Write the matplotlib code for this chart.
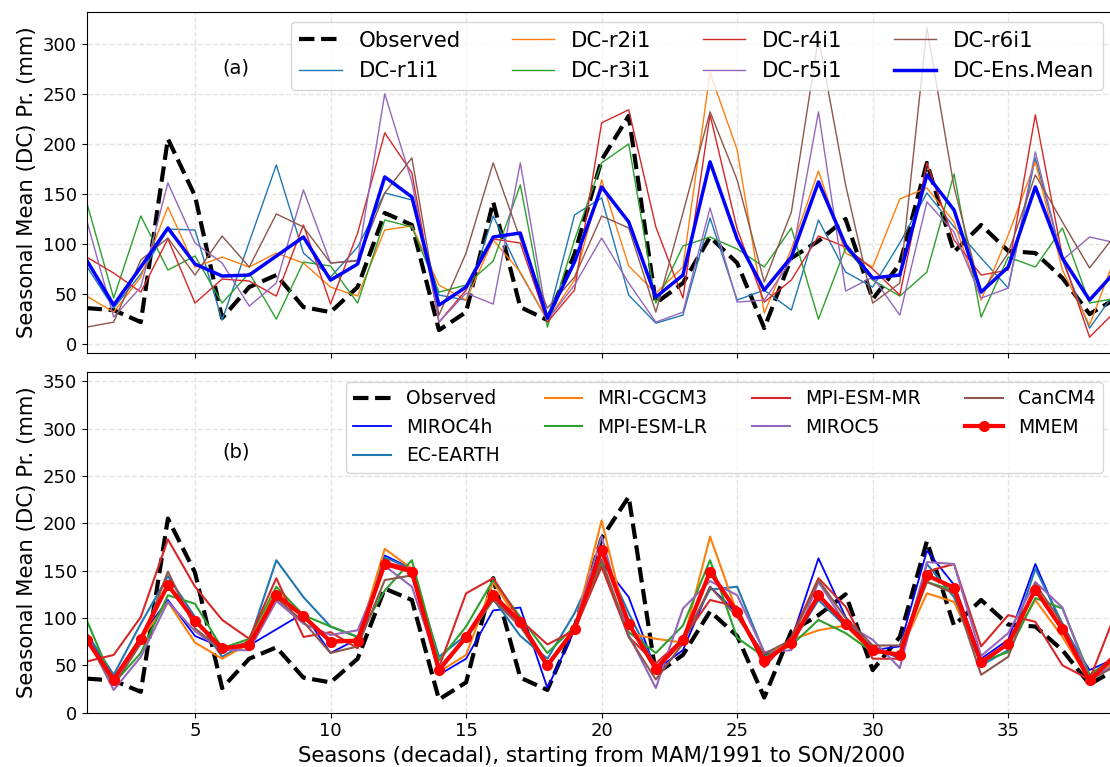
import numpy as np
import matplotlib
matplotlib.use("Agg")
import matplotlib.pyplot as plt

# seasonal index, MAM/1991 onwards
seasons = np.arange(1, 40)

observed = [36, 34, 22, 205, 148, 26, 57, 69, 37, 32, 57, 131, 119, 14, 32, 142, 37, 24, 90, 184,
            228, 41, 61, 107, 81, 16, 86, 103, 125, 45, 80, 181, 92, 119, 93, 91, 66, 30, 46]

# panel (a): decadal ensemble members
dc_r1i1 = [78, 36, 70, 115, 114, 24, 102, 179, 91, 67, 97, 151, 144, 49, 44, 128, 71, 24, 129, 146,
           49, 21, 29, 126, 44, 54, 34, 124, 72, 57, 101, 151, 117, 86, 56, 186, 84, 16, 54]
dc_r2i1 = [48, 32, 67, 137, 77, 87, 77, 91, 81, 57, 48, 114, 118, 59, 44, 104, 72, 24, 64, 164,
           78, 51, 77, 271, 194, 31, 95, 173, 91, 77, 145, 156, 122, 44, 109, 182, 74, 19, 91]
dc_r3i1 = [142, 46, 128, 74, 88, 41, 71, 25, 82, 78, 41, 124, 117, 52, 59, 83, 159, 17, 104, 181,
           200, 41, 98, 107, 95, 77, 116, 25, 96, 64, 48, 72, 170, 27, 87, 77, 116, 41, 46]
dc_r4i1 = [87, 71, 52, 105, 41, 65, 63, 48, 119, 40, 111, 211, 171, 22, 54, 105, 101, 22, 54, 221,
           234, 117, 46, 229, 115, 42, 64, 108, 97, 75, 49, 181, 104, 69, 74, 229, 87, 7, 34]
dc_r5i1 = [124, 27, 57, 161, 101, 81, 38, 61, 154, 81, 84, 250, 162, 22, 51, 40, 181, 24, 59, 106,
           61, 22, 32, 136, 42, 44, 84, 232, 53, 67, 29, 142, 112, 46, 56, 192, 84, 107, 101]
dc_r6i1 = [17, 22, 84, 106, 69, 108, 77, 130, 117, 81, 83, 151, 186, 29, 91, 181, 105, 36, 67, 128,
           116, 32, 131, 232, 164, 62, 132, 306, 159, 41, 61, 316, 157, 51, 91, 169, 122, 76, 111]
dc_ens = [84, 39, 77, 116, 80, 68, 69, 88, 107, 64, 80, 167, 147, 39, 57, 107, 111, 26, 82, 157,
          122, 47, 69, 182, 105, 54, 87, 162, 99, 66, 69, 169, 134, 52, 77, 157, 86, 44, 74]

# panel (b): multi-model
miroc4h = [82, 36, 80, 119, 81, 69, 71, 88, 105, 63, 78, 166, 152, 40, 57, 108, 111, 26, 87, 159,
           122, 45, 66, 133, 105, 60, 77, 163, 101, 66, 70, 171, 135, 57, 77, 157, 91, 45, 58]
ec_earth = [84, 40, 94, 144, 101, 59, 75, 161, 122, 91, 80, 164, 152, 59, 82, 120, 81, 57, 105, 168,
            105, 48, 77, 130, 133, 63, 73, 119, 91, 70, 57, 157, 122, 50, 66, 152, 94, 40, 55]
mri_cgcm3 = [80, 34, 77, 117, 74, 57, 73, 129, 100, 77, 77, 173, 152, 43, 61, 138, 94, 52, 89, 203,
             84, 78, 74, 186, 105, 58, 77, 87, 92, 63, 63, 126, 117, 55, 71, 119, 80, 34, 55]
mpi_lr = [98, 31, 63, 124, 115, 68, 78, 133, 103, 91, 80, 129, 161, 55, 91, 140, 101, 63, 91, 157,
          85, 63, 92, 161, 79, 59, 71, 98, 84, 64, 63, 138, 129, 54, 64, 121, 110, 40, 60]
mpi_mr = [54, 61, 101, 183, 133, 98, 78, 142, 80, 85, 68, 159, 152, 48, 126, 142, 98, 72, 87, 154,
          80, 52, 78, 119, 112, 48, 80, 142, 112, 57, 57, 149, 157, 70, 103, 96, 50, 35, 108]
miroc5 = [80, 24, 59, 117, 86, 66, 66, 118, 94, 82, 87, 155, 133, 48, 80, 119, 94, 47, 91, 186,
          82, 26, 110, 139, 124, 64, 66, 138, 94, 77, 47, 159, 157, 60, 84, 138, 111, 36, 52]
cancm4 = [78, 29, 73, 149, 89, 66, 75, 121, 96, 63, 70, 140, 145, 45, 78, 119, 91, 49, 86, 162,
          80, 35, 73, 133, 101, 62, 77, 140, 100, 71, 71, 138, 126, 40, 59, 136, 94, 34, 50]
mmem = [77, 35, 78, 135, 97, 68, 71, 124, 102, 75, 76, 157, 149, 45, 80, 124, 96, 50, 88, 172,
        94, 46, 77, 149, 106, 55, 74, 124, 94, 66, 61, 145, 132, 53, 73, 130, 88, 34, 62]

fig = plt.figure(figsize=(11.1, 7.67), dpi=100)
# axes run slightly past the right edge of the canvas
ax1 = fig.add_axes([0.078, 0.5402, 0.928, 0.4446])
ax2 = fig.add_axes([0.078, 0.0708, 0.928, 0.4446], sharex=ax1)

# --- (a) ---
ax1.plot(seasons, observed, 'k--', lw=3, label='Observed')
members = [dc_r1i1, dc_r2i1, dc_r3i1, dc_r4i1, dc_r5i1, dc_r6i1]
for i, m in enumerate(members):
    ax1.plot(seasons, m, color='C%d' % i, lw=1, label='DC-r%di1' % (i + 1))
ax1.plot(seasons, dc_ens, color='blue', lw=2.5, label='DC-Ens.Mean')
ax1.set_ylim(-8.5, 332)
ax1.set_yticks(np.arange(0, 301, 50))
ax1.text(6.5, 276, '(a)', fontsize=14, ha='center', va='center')
# legends pinned in figure coords since the axes overhang the canvas
ax1.legend(ncol=4, fontsize=15.3, loc='upper right', borderaxespad=0, columnspacing=2.4,
           bbox_to_anchor=(0.9937, 0.9713), bbox_transform=fig.transFigure)

# --- (b) ---
ax2.plot(seasons, observed, 'k--', lw=3, label='Observed')
ax2.plot(seasons, miroc4h, color='blue', lw=1.3, label='MIROC4h')
ax2.plot(seasons, ec_earth, color='C0', lw=1.5, label='EC-EARTH')
ax2.plot(seasons, mri_cgcm3, color='C1', lw=1.5, label='MRI-CGCM3')
ax2.plot(seasons, mpi_lr, color='C2', lw=1.5, label='MPI-ESM-LR')
ax2.plot(seasons, mpi_mr, color='C3', lw=1.5, label='MPI-ESM-MR')
ax2.plot(seasons, miroc5, color='C4', lw=1.5, label='MIROC5')
ax2.plot(seasons, cancm4, color='C5', lw=1.5, label='CanCM4')
ax2.plot(seasons, mmem, color='red', lw=3, marker='o', ms=7, label='MMEM')
ax2.set_ylim(0, 360)
ax2.set_yticks(np.arange(0, 351, 50))
ax2.text(6.5, 275, '(b)', fontsize=14, ha='center', va='center')
ax2.legend(ncol=4, fontsize=13.5, loc='upper right', borderaxespad=0, columnspacing=2.4,
           bbox_to_anchor=(0.9937, 0.502), bbox_transform=fig.transFigure)

ax2.set_xlim(1, 39)
ax2.set_xticks(np.arange(5, 39, 5))
ax2.set_xlabel('Seasons (decadal), starting from MAM/1991 to SON/2000', fontsize=15.3)
plt.setp(ax1.get_xticklabels(), visible=False)

for ax in (ax1, ax2):
    ax.grid(True, color='lightgray', linestyle='--', lw=1, alpha=0.6)
    ax.tick_params(labelsize=13)
    ax.set_ylabel('Seasonal Mean (DC) Pr. (mm)', fontsize=15.3)

fig.savefig('out.png', dpi=100)
